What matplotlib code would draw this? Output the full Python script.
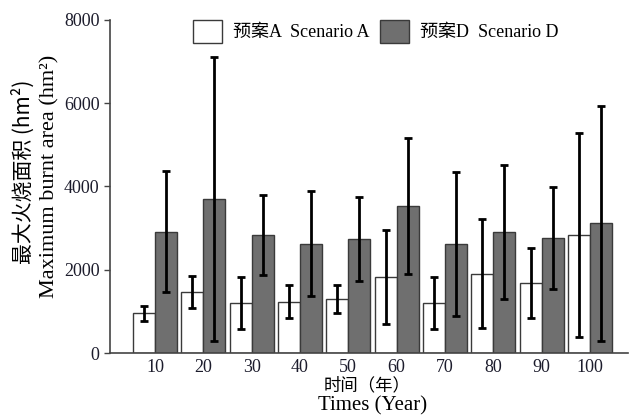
import matplotlib
matplotlib.use("Agg")
import matplotlib.pyplot as plt
import numpy as np

years = ["10", "20", "30", "40", "50", "60", "70", "80", "90", "100"]
scenario_a = [950, 1470, 1200, 1230, 1300, 1830, 1200, 1910, 1680, 2840]
scenario_a_err = [180, 390, 630, 400, 330, 1130, 625, 1310, 850, 2450]
scenario_d = [2915, 3700, 2835, 2620, 2740, 3530, 2620, 2915, 2755, 3115]
scenario_d_err = [1460, 3400, 950, 1260, 1000, 1630, 1740, 1610, 1225, 2820]

label_a = "预案A  Scenario A"
label_d = "预案D  Scenario D"

serif = ["Liberation Serif", "Noto Sans CJK SC"]
cjk = ["Noto Sans CJK SC", "Liberation Serif"]

fig = plt.figure(figsize=(6.3, 4.16), dpi=100)
ax = fig.add_axes([0.1746, 0.1514, 0.8254 - 0.003, 0.8006])

x = np.arange(len(years))
w = 0.455
ek = dict(ecolor="black", elinewidth=2.0, capsize=3, capthick=2.0)
ba = ax.bar(x - w / 2, scenario_a, w, yerr=scenario_a_err, color="white",
            edgecolor="#3a3a3a", linewidth=1.0, error_kw=ek, label=label_a)
bd = ax.bar(x + w / 2, scenario_d, w, yerr=scenario_d_err, color="#6f6f6f",
            edgecolor="#3a3a3a", linewidth=1.0, error_kw=ek, label=label_d)

ax.set_xlim(-0.93, 9.79)
ax.set_ylim(0, 8000)
ax.set_yticks([0, 2000, 4000, 6000, 8000])
ax.set_xticks(x)
ax.set_xticklabels(years)
ax.tick_params(axis="x", length=0, pad=4)
ax.tick_params(axis="y", length=4, direction="out", width=1, color="#444444")
for lab in ax.get_xticklabels() + ax.get_yticklabels():
    lab.set_family(serif)
    lab.set_fontsize(13)
    lab.set_color("#1c1c2c")
for s in ["top", "right"]:
    ax.spines[s].set_visible(False)
for s in ["left", "bottom"]:
    ax.spines[s].set_color("#444444")
    ax.spines[s].set_linewidth(1.2)

# axis labels (two lines: Chinese + English)
fig.text(0.036, 0.586, "最大火烧面积 (hm²)", rotation=90, ha="center", va="center",
         family=cjk, fontsize=15)
fig.text(0.079, 0.577, "Maximum burnt area (hm²)", rotation=90, ha="center", va="center",
         family=serif, fontsize=16)
fig.text(0.583, 0.073, "时间（年）", ha="center", va="center", family=cjk, fontsize=12.5)
fig.text(0.592, 0.024, "Times (Year)", ha="center", va="center", family=serif, fontsize=15)

leg = ax.legend(handles=[ba, bd], labels=[label_a, label_d], ncol=2, frameon=False,
                loc="upper left", bbox_to_anchor=(0.16, 1.0), borderaxespad=0,
                borderpad=0, handlelength=1.6,
                handleheight=1.6, handletextpad=0.6, columnspacing=0.6,
                prop={"family": serif, "size": 13})
for t in leg.get_texts():
    t.set_family(cjk[::-1])

fig.savefig("out.png", dpi=100)
